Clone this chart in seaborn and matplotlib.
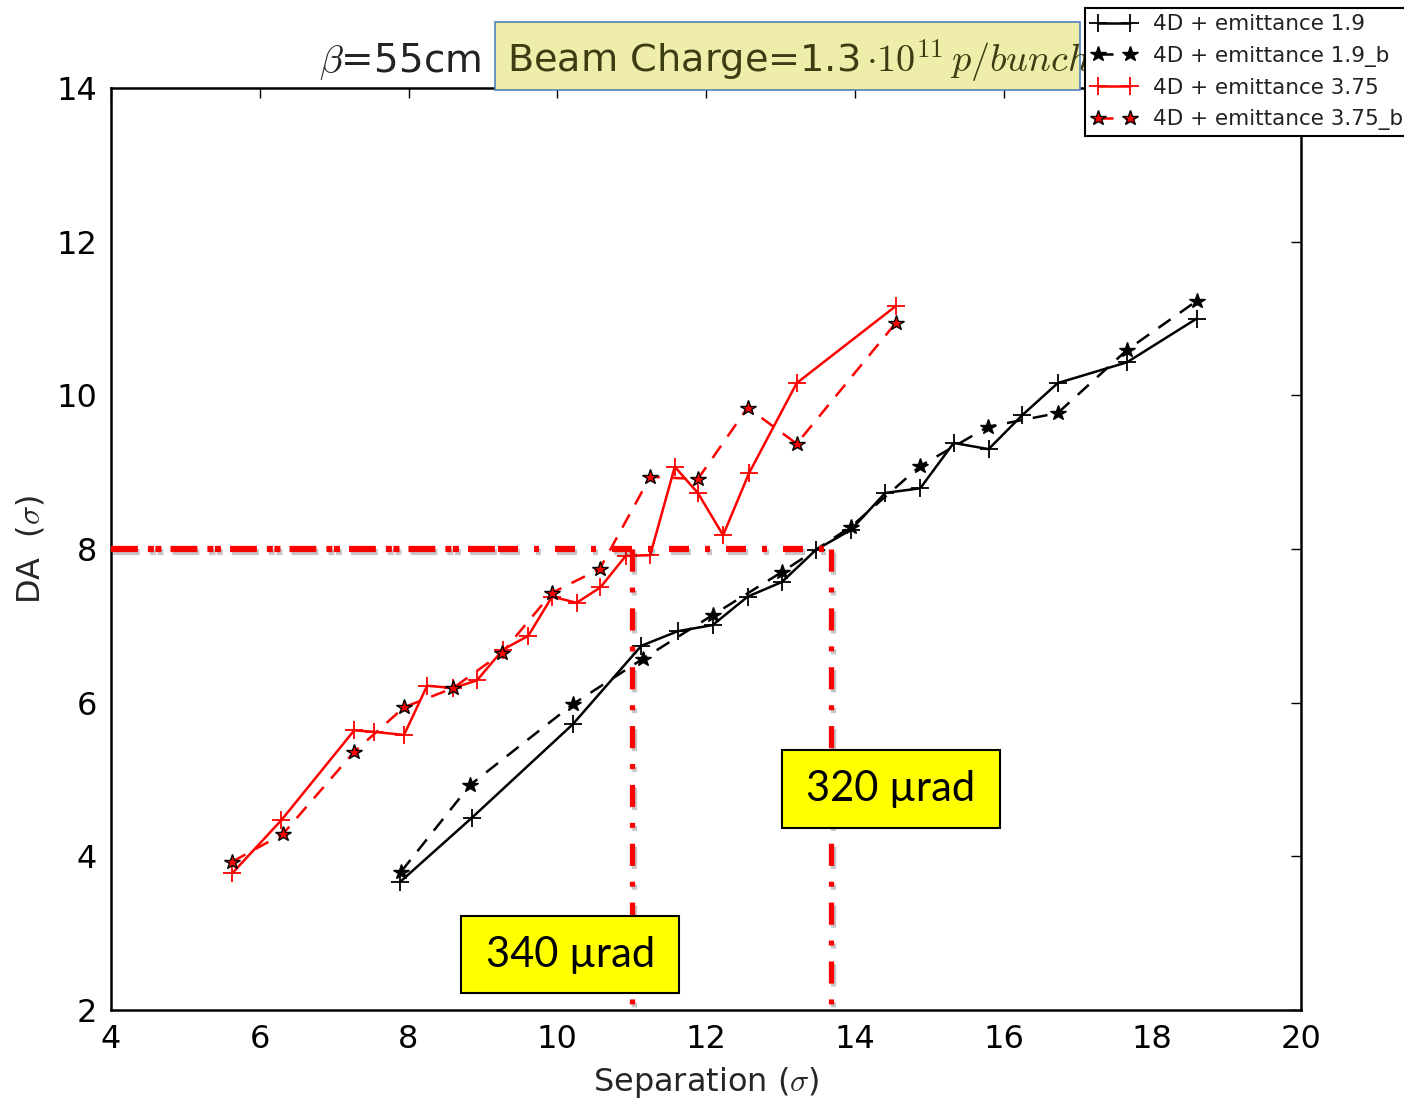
import numpy as np
import pandas as pd
import seaborn as sns
import matplotlib
matplotlib.use("Agg")
import matplotlib.pyplot as plt
import matplotlib.patheffects as pe
from matplotlib.patches import Rectangle

# ---------------- data ----------------
sep_19 = [7.89, 8.85, 10.21, 11.13, 11.62, 12.09, 12.56, 13.02, 13.48, 13.95,
          14.41, 14.88, 15.33, 15.80, 16.25, 16.73, 17.66, 18.60]
da_19 = [3.67, 4.50, 5.72, 6.74, 6.93, 7.01, 7.38, 7.57, 7.99, 8.25,
         8.73, 8.79, 9.38, 9.30, 9.74, 10.16, 10.43, 11.00]

sep_19b = [7.90, 8.83, 10.21, 11.15, 12.09, 13.02, 13.95, 14.88, 15.79, 16.73, 17.66, 18.60]
da_19b = [3.80, 4.93, 5.98, 6.57, 7.14, 7.70, 8.29, 9.08, 9.59, 9.77, 10.59, 11.23]

sep_375 = [5.63, 6.29, 7.27, 7.54, 7.94, 8.25, 8.60, 8.92, 9.27, 9.61, 9.93,
           10.26, 10.58, 10.92, 11.25, 11.58, 11.89, 12.23, 12.58, 13.22, 14.55]
da_375 = [3.78, 4.47, 5.64, 5.62, 5.58, 6.22, 6.19, 6.29, 6.69, 6.87, 7.38,
          7.30, 7.50, 7.91, 7.92, 9.07, 8.73, 8.18, 8.99, 10.16, 11.16]

sep_375b = [5.63, 6.31, 7.27, 7.94, 8.60, 9.26, 9.93, 10.57, 11.25, 11.89, 12.56, 13.22, 14.55]
da_375b = [3.93, 4.29, 5.36, 5.94, 6.19, 6.65, 7.43, 7.74, 8.94, 8.91, 9.84, 9.37, 10.94]

labels = ["4D + emittance 1.9", "4D + emittance 1.9_b",
          "4D + emittance 3.75", "4D + emittance 3.75_b"]

ref_da = 8.0
ref_seps = [11.0, 13.68]
ref_texts = ["340 \u00b5rad", "320 \u00b5rad"]

title_left = r"$\beta$=55cm"
title_box = r"Beam Charge=1.3$\,{\cdot}10^{11}\,p/bunch$"

xticks = [4, 6, 8, 10, 12, 14, 16, 18, 20]
yticks = [2, 4, 6, 8, 10, 12, 14]

# ---------------- style ----------------
sns.set_style("white")
plt.rcParams.update({
    "font.family": ["DejaVu Sans"],
    "mathtext.fontset": "cm",
    "xtick.direction": "in",
    "ytick.direction": "in",
    "xtick.top": True,
    "ytick.right": True,
    "xtick.major.size": 7,
    "ytick.major.size": 7,
    "xtick.major.width": 1.0,
    "ytick.major.width": 1.0,
    "xtick.color": "black",
    "ytick.color": "black",
    "axes.edgecolor": "black",
    "axes.linewidth": 1.8,
})

W, H = 1404, 1107
fig = plt.figure(figsize=(W / 100, H / 100), dpi=100)
ax = fig.add_axes([111 / W, 1 - 1010 / H, (1301 - 111) / W, (1010 - 88) / H])

series = [
    (sep_19, da_19, "k", "+", "-", "k", "k", 13, 1.3),
    (sep_19b, da_19b, "k", "*", (0, (6, 4.5)), "k", "k", 11.5, 1.0),
    (sep_375, da_375, "r", "+", "-", "r", "r", 13, 1.3),
    (sep_375b, da_375b, "r", "*", (0, (6, 4.5)), "r", "k", 11.5, 1.0),
]
handles = []
for (xs, ys, c, m, ls, mfc, mec, ms, mew), lab in zip(series, labels):
    df = pd.DataFrame({"x": xs, "y": ys})
    sns.lineplot(data=df, x="x", y="y", ax=ax, color=c, marker=m, linestyle=ls,
                 markerfacecolor=mfc, markeredgecolor=mec, markersize=ms,
                 markeredgewidth=mew, linewidth=1.8, sort=False, estimator=None,
                 label=lab, legend=False)
    handles.append(ax.lines[-1])
if ax.get_legend() is not None:
    ax.get_legend().remove()

# reference lines (dash-dot, red, with soft shadow)
shadow = [pe.SimpleLineShadow(offset=(1.5, -2.5), shadow_color="k", alpha=0.22), pe.Normal()]
ax.plot([4, 9.2], [ref_da, ref_da], color="red", lw=4.5,
        linestyle=(0, (4.3, 1.6, 0.96, 0.25, 0.96, 1.45)), solid_capstyle="butt",
        path_effects=shadow, zorder=6, clip_on=False)
ax.plot([9.2, ref_seps[1]], [ref_da, ref_da], color="red", lw=4.5,
        linestyle=(0, (3.2, 2.56, 0.8, 2.56)), path_effects=shadow, zorder=6, clip_on=False)
for sx in ref_seps:
    ax.plot([sx, sx], [ref_da, 2.0], color="red", lw=3.8,
            linestyle=(0, (4.2, 3.0, 0.95, 3.0)), path_effects=shadow, zorder=6, clip_on=False)

ax.set_xlim(4, 20)
ax.set_ylim(2, 14)
ax.set_xticks(xticks)
ax.set_yticks(yticks)
ax.tick_params(labelsize=23, pad=10)
for s in ax.spines.values():
    s.set_visible(True)
    s.set_color("black")
    s.set_linewidth(1.8)

ax.set_xlabel(r"Separation ($\sigma$)", fontsize=23)
ax.set_ylabel(r"DA  ($\sigma$)", fontsize=23)
ax.xaxis.set_label_coords(0.5, -0.060)
ax.yaxis.set_label_coords(-0.054, 0.5)

# yellow annotation boxes (data coordinates)
boxes = [(8.71, 2.22, 2.93, 1.0), (13.02, 4.37, 2.93, 1.01)]
for (bx, by, bw, bh), txt in zip(boxes, ref_texts):
    ax.add_patch(Rectangle((bx, by), bw, bh, facecolor="#ffff00", edgecolor="black",
                           lw=1.5, zorder=8, clip_on=False))
    ax.text(bx + bw / 2, by + bh / 2, txt, ha="center", va="center",
            fontsize=30, family=["Lato", "DejaVu Sans"], color="black", zorder=9)

# title parts
fig.text(481 / W, 1 - 61 / H, title_left, ha="right", va="center", fontsize=28, color="#222222")
fig.patches.append(Rectangle((495 / W, 1 - 90 / H), 585 / W, 68 / H, transform=fig.transFigure,
                             facecolor="#eeeeaa", edgecolor="#4f81bd", lw=1.2, zorder=2))
fig.text(507 / W, 1 - 61 / H, title_box, ha="left", va="center", fontsize=27.5,
         color="#3d3d14", zorder=3)

# legend
leg = fig.legend(handles, labels, loc="upper left", bbox_to_anchor=(1085 / W, 1 - 8 / H),
                 bbox_transform=fig.transFigure, fontsize=15.5, numpoints=2, handlelength=2.1,
                 handletextpad=0.75, borderpad=0.3, labelspacing=0.52, borderaxespad=0,
                 fancybox=False, framealpha=1, edgecolor="black")
leg.get_frame().set_linewidth(1.5)
for t in leg.get_texts():
    t.set_color("#222222")

fig.savefig("out.png", dpi=100, facecolor="white")
